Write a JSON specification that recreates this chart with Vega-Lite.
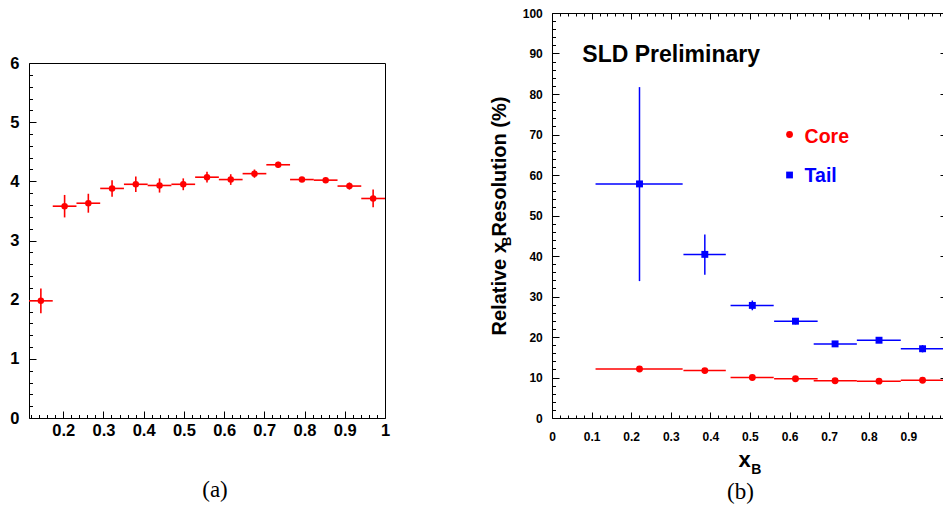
{
  "$schema": "https://vega.github.io/schema/vega-lite/v6.json",
  "padding": {"left": 9, "top": 7, "right": 0, "bottom": 0},
  "spacing": 99,
  "config": {
    "view": {"stroke": null},
    "font": "Liberation Sans",
    "axis": {"domainColor": "#000", "tickColor": "#000", "labelColor": "#000", "titleColor": "#000", "labelFont": "Liberation Sans", "labelFontWeight": "bold", "titleFont": "Liberation Sans", "titleFontWeight": "bold", "labelOverlap": false, "labelFlush": false, "grid": false, "domainWidth": 1, "tickWidth": 1}
  },
  "hconcat": [
    {
      "width": 356,
      "height": 405,
      "title": {"text": "(a)", "orient": "bottom", "font": "Liberation Serif", "fontWeight": "normal", "fontSize": 23, "offset": 37, "dx": 8, "color": "#000"},
      "data": {"values": [
        {"x": 0.1445, "x1": 0.115, "x2": 0.174, "y": 1.98, "y1": 1.77, "y2": 2.19},
        {"x": 0.2035, "x1": 0.174, "x2": 0.233, "y": 3.58, "y1": 3.39, "y2": 3.77},
        {"x": 0.2625, "x1": 0.233, "x2": 0.292, "y": 3.63, "y1": 3.47, "y2": 3.79},
        {"x": 0.3215, "x1": 0.292, "x2": 0.351, "y": 3.88, "y1": 3.74, "y2": 4.02},
        {"x": 0.3805, "x1": 0.351, "x2": 0.41, "y": 3.95, "y1": 3.82, "y2": 4.08},
        {"x": 0.4395, "x1": 0.41, "x2": 0.469, "y": 3.93, "y1": 3.81, "y2": 4.05},
        {"x": 0.4985, "x1": 0.469, "x2": 0.528, "y": 3.95, "y1": 3.85, "y2": 4.05},
        {"x": 0.5575, "x1": 0.528, "x2": 0.587, "y": 4.07, "y1": 3.98, "y2": 4.16},
        {"x": 0.6165, "x1": 0.587, "x2": 0.646, "y": 4.03, "y1": 3.94, "y2": 4.12},
        {"x": 0.6755, "x1": 0.646, "x2": 0.705, "y": 4.13, "y1": 4.06, "y2": 4.2},
        {"x": 0.7345, "x1": 0.705, "x2": 0.764, "y": 4.28, "y1": 4.23, "y2": 4.33},
        {"x": 0.7935, "x1": 0.764, "x2": 0.823, "y": 4.03, "y1": 3.99, "y2": 4.07},
        {"x": 0.8525, "x1": 0.823, "x2": 0.882, "y": 4.02, "y1": 3.98, "y2": 4.06},
        {"x": 0.9115, "x1": 0.882, "x2": 0.941, "y": 3.92, "y1": 3.86, "y2": 3.98},
        {"x": 0.9705, "x1": 0.941, "x2": 1.0, "y": 3.71, "y1": 3.56, "y2": 3.86}
      ]},
      "layer": [
        {
          "mark": {"type": "rule", "color": "#ff0000", "strokeWidth": 1.6},
          "encoding": {
            "x": {"field": "x1", "type": "quantitative",
              "scale": {"domain": [0.115, 1], "nice": false, "zero": false},
              "axis": {"orient": "bottom", "title": null,
                "values": [0.12,0.14,0.16,0.18,0.2,0.22,0.24,0.26,0.28,0.3,0.32,0.34,0.36,0.38,0.4,0.42,0.44,0.46,0.48,0.5,0.52,0.54,0.56,0.58,0.6,0.62,0.64,0.66,0.68,0.7,0.72,0.74,0.76,0.78,0.8,0.82,0.84,0.86,0.88,0.9,0.92,0.94,0.96,0.98,1],
                "tickSize": {"condition": {"test": "abs(datum.value*10-round(datum.value*10))<1e-6", "value": -7}, "value": -3.5},
                "labelExpr": "abs(datum.value*10-round(datum.value*10))<1e-6 ? ''+round(datum.value*10)/10 : ''",
                "labelFontSize": 16.5, "labelPadding": 11}},
            "x2": {"field": "x2"},
            "y": {"field": "y", "type": "quantitative",
              "scale": {"domain": [0, 6], "nice": false, "zero": false, "range": [405, 50]},
              "axis": {"orient": "left", "title": null,
                "values": [0,0.2,0.4,0.6,0.8,1,1.2,1.4,1.6,1.8,2,2.2,2.4,2.6,2.8,3,3.2,3.4,3.6,3.8,4,4.2,4.4,4.6,4.8,5,5.2,5.4,5.6,5.8,6],
                "tickSize": {"condition": {"test": "datum.value % 1 === 0", "value": -7}, "value": -3.5},
                "labelExpr": "datum.value % 1 === 0 ? ''+datum.value : ''",
                "labelFontSize": 16.5, "labelPadding": 17}}
          }
        },
        {
          "mark": {"type": "rule", "color": "#ff0000", "strokeWidth": 1.6},
          "encoding": {
            "x": {"field": "x", "type": "quantitative",
              "axis": {"orient": "top", "offset": -50, "ticks": false, "labels": false, "title": null, "domain": true}},
            "y": {"field": "y1", "type": "quantitative",
              "axis": {"orient": "right", "ticks": false, "labels": false, "title": null, "domain": true}},
            "y2": {"field": "y2"}
          }
        },
        {
          "mark": {"type": "point", "filled": true, "color": "#ff0000", "size": 42, "opacity": 1},
          "encoding": {
            "x": {"field": "x", "type": "quantitative", "axis": null},
            "y": {"field": "y", "type": "quantitative", "axis": null}
          }
        }
      ],
      "resolve": {"axis": {"x": "independent", "y": "independent"}}
    },
    {
      "width": 391,
      "height": 405,
      "title": {"text": "(b)", "orient": "bottom", "font": "Liberation Serif", "fontWeight": "normal", "fontSize": 23, "offset": 4, "dx": -7, "color": "#000"},
      "data": {"values": [
        {"series": "Core", "x": 0.221, "x1": 0.11, "x2": 0.33, "y": 12.1, "y1": 11.9, "y2": 12.3},
        {"series": "Core", "x": 0.386, "x1": 0.332, "x2": 0.439, "y": 11.7, "y1": 11.5, "y2": 11.9},
        {"series": "Core", "x": 0.506, "x1": 0.451, "x2": 0.56, "y": 10.0, "y1": 9.8, "y2": 10.2},
        {"series": "Core", "x": 0.615, "x1": 0.561, "x2": 0.671, "y": 9.7, "y1": 9.5, "y2": 9.9},
        {"series": "Core", "x": 0.715, "x1": 0.661, "x2": 0.77, "y": 9.2, "y1": 9.0, "y2": 9.4},
        {"series": "Core", "x": 0.826, "x1": 0.77, "x2": 0.881, "y": 9.1, "y1": 8.9, "y2": 9.3},
        {"series": "Core", "x": 0.936, "x1": 0.881, "x2": 0.991, "y": 9.3, "y1": 9.1, "y2": 9.5},
        {"series": "Tail", "x": 0.221, "x1": 0.11, "x2": 0.33, "y": 57.8, "y1": 33.8, "y2": 81.7},
        {"series": "Tail", "x": 0.386, "x1": 0.332, "x2": 0.439, "y": 40.4, "y1": 35.4, "y2": 45.3},
        {"series": "Tail", "x": 0.506, "x1": 0.451, "x2": 0.56, "y": 27.8, "y1": 26.6, "y2": 29.0},
        {"series": "Tail", "x": 0.615, "x1": 0.561, "x2": 0.671, "y": 23.9, "y1": 23.1, "y2": 24.7},
        {"series": "Tail", "x": 0.715, "x1": 0.661, "x2": 0.77, "y": 18.3, "y1": 17.8, "y2": 18.8},
        {"series": "Tail", "x": 0.826, "x1": 0.77, "x2": 0.881, "y": 19.2, "y1": 18.7, "y2": 19.7},
        {"series": "Tail", "x": 0.936, "x1": 0.881, "x2": 0.991, "y": 17.1, "y1": 16.2, "y2": 18.0}
      ]},
      "layer": [
        {
          "mark": {"type": "rule", "strokeWidth": 1.5, "clip": true},
          "encoding": {
            "x": {"field": "x1", "type": "quantitative",
              "scale": {"domain": [0, 0.9876], "nice": false, "zero": false},
              "axis": {"orient": "bottom",
                "values": [0,0.02,0.04,0.06,0.08,0.1,0.12,0.14,0.16,0.18,0.2,0.22,0.24,0.26,0.28,0.3,0.32,0.34,0.36,0.38,0.4,0.42,0.44,0.46,0.48,0.5,0.52,0.54,0.56,0.58,0.6,0.62,0.64,0.66,0.68,0.7,0.72,0.74,0.76,0.78,0.8,0.82,0.84,0.86,0.88,0.9,0.92,0.94,0.96,0.98],
                "tickSize": {"condition": {"test": "abs(datum.value*10-round(datum.value*10))<1e-6", "value": -6}, "value": -3},
                "labelExpr": "abs(datum.value*10-round(datum.value*10))<1e-6 ? ''+round(datum.value*10)/10 : ''",
                "labelFontSize": 12, "labelPadding": 19,
                "title": "x", "titleFontSize": 22, "titlePadding": 4, "titleX": 192, "titleAlign": "center"}},
            "x2": {"field": "x2"},
            "y": {"field": "y", "type": "quantitative",
              "scale": {"domain": [0, 100], "nice": false, "zero": false},
              "axis": {"orient": "left",
                "values": [0,2,4,6,8,10,12,14,16,18,20,22,24,26,28,30,32,34,36,38,40,42,44,46,48,50,52,54,56,58,60,62,64,66,68,70,72,74,76,78,80,82,84,86,88,90,92,94,96,98,100],
                "tickSize": {"condition": {"test": "datum.value % 10 === 0", "value": -7}, "value": -3.5},
                "labelExpr": "datum.value % 10 === 0 ? ''+datum.value : ''",
                "labelFontSize": 12, "labelPadding": 16.7,
                "title": "Relative x   Resolution (%)", "titleFontSize": 20, "titlePadding": 13}},
            "color": {"field": "series", "type": "nominal", "scale": {"domain": ["Core", "Tail"], "range": ["#ff0000", "#0000ff"]}, "legend": null}
          }
        },
        {
          "mark": {"type": "rule", "strokeWidth": 1.5, "clip": true},
          "encoding": {
            "x": {"field": "x", "type": "quantitative",
              "axis": {"orient": "top", "labels": false, "title": null, "domain": true,
                "values": [0,0.02,0.04,0.06,0.08,0.1,0.12,0.14,0.16,0.18,0.2,0.22,0.24,0.26,0.28,0.3,0.32,0.34,0.36,0.38,0.4,0.42,0.44,0.46,0.48,0.5,0.52,0.54,0.56,0.58,0.6,0.62,0.64,0.66,0.68,0.7,0.72,0.74,0.76,0.78,0.8,0.82,0.84,0.86,0.88,0.9,0.92,0.94,0.96,0.98],
                "tickSize": {"condition": {"test": "abs(datum.value*10-round(datum.value*10))<1e-6", "value": -6}, "value": -3}}},
            "y": {"field": "y1", "type": "quantitative",
              "axis": {"orient": "right", "labels": false, "title": null, "domain": false,
                "values": [0,10,20,30,40,50,60,70,80,90,100], "tickSize": -3}},
            "y2": {"field": "y2"},
            "color": {"field": "series", "type": "nominal", "legend": null}
          }
        },
        {
          "mark": {"type": "point", "filled": true, "size": 48, "opacity": 1},
          "encoding": {
            "x": {"field": "x", "type": "quantitative", "axis": null},
            "y": {"field": "y", "type": "quantitative", "axis": null},
            "color": {"field": "series", "type": "nominal", "legend": null},
            "shape": {"field": "series", "type": "nominal", "scale": {"domain": ["Core", "Tail"], "range": ["circle", "square"]}, "legend": null}
          }
        },
        {
          "data": {"values": [{}]},
          "mark": {"type": "point", "shape": "circle", "filled": true, "color": "#ff0000", "size": 46, "opacity": 1},
          "encoding": {
            "x": {"datum": 0.6, "type": "quantitative", "axis": null},
            "y": {"datum": 70, "type": "quantitative", "axis": null}
          }
        },
        {
          "data": {"values": [{}]},
          "mark": {"type": "point", "shape": "square", "filled": true, "color": "#0000ff", "size": 46, "opacity": 1},
          "encoding": {
            "x": {"datum": 0.6, "type": "quantitative", "axis": null},
            "y": {"datum": 60, "type": "quantitative", "axis": null}
          }
        },
        {
          "data": {"values": [{}]},
          "mark": {"type": "text", "text": "Core", "font": "Liberation Sans", "fontWeight": "bold", "fontSize": 19.5, "align": "left", "baseline": "alphabetic", "color": "#ff0000"},
          "encoding": {
            "x": {"datum": 0.638, "type": "quantitative", "axis": null},
            "y": {"datum": 68, "type": "quantitative", "axis": null}
          }
        },
        {
          "data": {"values": [{}]},
          "mark": {"type": "text", "text": "Tail", "font": "Liberation Sans", "fontWeight": "bold", "fontSize": 19.5, "align": "left", "baseline": "alphabetic", "color": "#0000ff"},
          "encoding": {
            "x": {"datum": 0.638, "type": "quantitative", "axis": null},
            "y": {"datum": 58.2, "type": "quantitative", "axis": null}
          }
        },
        {
          "data": {"values": [{}]},
          "mark": {"type": "text", "text": "SLD Preliminary", "font": "Liberation Sans", "fontWeight": "bold", "fontSize": 23, "align": "left", "baseline": "alphabetic", "color": "#000"},
          "encoding": {
            "x": {"datum": 0.0765, "type": "quantitative", "axis": null},
            "y": {"datum": 87.9, "type": "quantitative", "axis": null}
          }
        },
        {
          "data": {"values": [{}]},
          "mark": {"type": "text", "text": "B", "font": "Liberation Sans", "fontWeight": "bold", "fontSize": 13, "angle": 270, "align": "center", "baseline": "middle", "color": "#000"},
          "encoding": {
            "x": {"datum": -0.113, "type": "quantitative", "axis": null},
            "y": {"datum": 43.6, "type": "quantitative", "axis": null}
          }
        },
        {
          "data": {"values": [{}]},
          "mark": {"type": "text", "text": "B", "font": "Liberation Sans", "fontWeight": "bold", "fontSize": 14, "align": "left", "baseline": "alphabetic", "color": "#000"},
          "encoding": {
            "x": {"datum": 0.503, "type": "quantitative", "axis": null},
            "y": {"datum": -13.9, "type": "quantitative", "axis": null}
          }
        }
      ],
      "resolve": {"axis": {"x": "independent", "y": "independent"}}
    }
  ]
}
